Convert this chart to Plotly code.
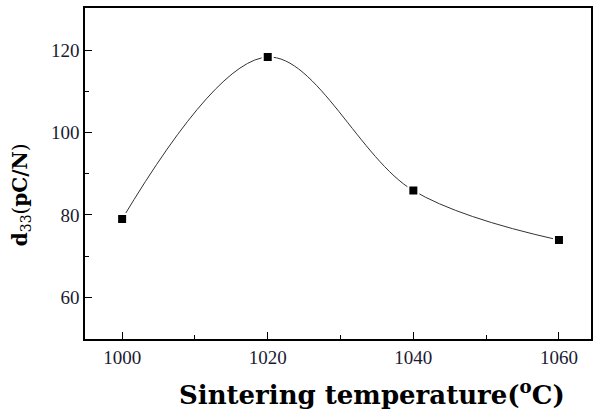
import plotly.graph_objects as go

temperature = [1000, 1020, 1040, 1060]
d33 = [79.0, 118.3, 85.9, 73.9]

x_ticks = [1000, 1020, 1040, 1060]
y_ticks = [60, 80, 100, 120]

x_title = "<b>Sintering temperature(<sup>o</sup>C)</b>"
y_title = "<b>d</b><sub>33</sub>(<b>pC/N</b>)"

fig = go.Figure()
fig.add_trace(go.Scatter(
    x=temperature, y=d33, mode="lines+markers",
    line=dict(shape="spline", smoothing=1.0, color="#333333", width=1),
    marker=dict(symbol="square", size=10, color="black",
                line=dict(color="white", width=2)),
    showlegend=False,
))

axis_common = dict(
    showline=True, linecolor="black", linewidth=1.5, mirror=True,
    ticks="inside", ticklen=7, tickwidth=1, tickcolor="black",
    showgrid=False, zeroline=False,
    tickfont=dict(family="Liberation Serif", size=19, color="#1a1a33"),
    minor=dict(ticks="inside", ticklen=4, tickwidth=1, tickcolor="black", showgrid=False),
)

fig.update_xaxes(
    range=[994.9, 1064.4], tickvals=x_ticks, ticktext=[str(v) for v in x_ticks],
    minor_dtick=10, minor_tick0=1010,
    **axis_common,
)
fig.update_yaxes(
    range=[49.9, 130.2], tickvals=y_ticks, ticktext=[str(v) for v in y_ticks],
    minor_dtick=10, minor_tick0=50,
    **axis_common,
)

fig.add_annotation(
    text=x_title, xref="paper", yref="paper", x=0.567, y=-0.162,
    xanchor="center", yanchor="middle", showarrow=False,
    font=dict(family="DejaVu Serif", size=26, color="black"),
)
fig.add_annotation(
    text=y_title, xref="paper", yref="paper", x=-0.126, y=0.435,
    xanchor="center", yanchor="middle", showarrow=False, textangle=-90,
    font=dict(family="DejaVu Serif", size=20, color="black"),
)

fig.update_layout(
    width=595, height=413,
    margin=dict(l=85, r=2, t=8, b=74),
    plot_bgcolor="white", paper_bgcolor="white",
)

fig.write_html("out.html")
